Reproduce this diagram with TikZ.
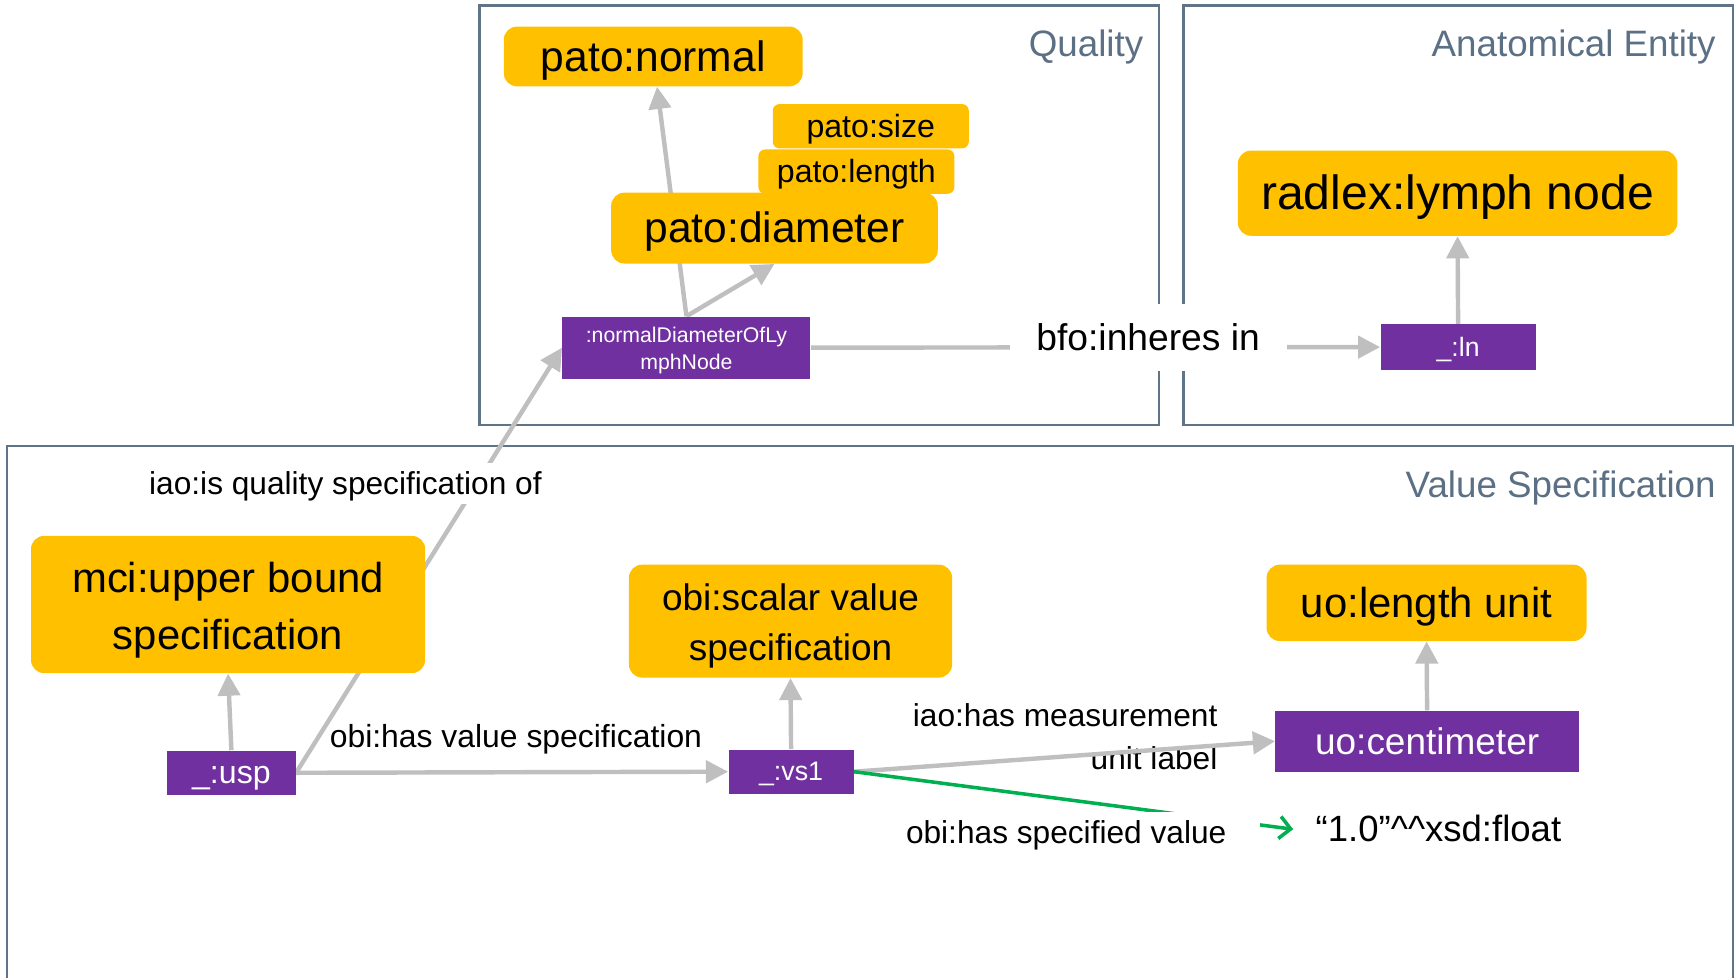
\documentclass[tikz,border=0pt]{standalone}
\usepackage{fontspec}
\setmainfont{Liberation Sans}
\usetikzlibrary{arrows.meta}
\definecolor{clsfill}{HTML}{FFC000}
\definecolor{instfill}{HTML}{7030A0}
\definecolor{edgegray}{HTML}{BFBFBF}
\definecolor{framecol}{HTML}{5F7587}
\definecolor{frametext}{HTML}{5B7084}
\definecolor{specgreen}{HTML}{00B050}
\pgfdeclarelayer{frames}
\pgfdeclarelayer{edges}
\pgfsetlayers{frames,edges,main}
\newcommand{\fs}[2]{\fontsize{#1}{#2}\selectfont}
% line strut with the font's full ascent and descent, so every line is centred alike
\newcommand{\ls}{\rule[-0.212em]{0pt}{1.117em}}
% slightly taller strut for the first line of two-line texts
\newcommand{\lsm}{\rule[-0.212em]{0pt}{1.217em}}
\begin{document}
\begin{tikzpicture}[x=0.5pt,y=-0.5pt,
  cls/.style={fill=clsfill, rounded corners=6pt, inner sep=0pt, text=black, align=center},
  inst/.style={fill=instfill, inner sep=0pt, text=white, align=center},
  rel/.style={draw=edgegray, line width=2pt, -{Triangle[length=10pt,width=10pt]}},
  specedge/.style={draw=specgreen, line width=1.6pt, -{Straight Barb[length=5pt,width=10pt]}},
  frame/.style={draw=framecol, line width=1pt},
  framelabel/.style={text=frametext, anchor=base east, inner sep=0pt, font=\fs{16.6}{19}},
  lbl/.style={inner sep=0pt, text=black},
]
\useasboundingbox (0,0) rectangle (1568,883);

% frames and the label that sits under its connector
\begin{pgfonlayer}{frames}
  \draw[frame] (433,5) rectangle (1047,384);
  \draw[frame] (1069,5) rectangle (1565,384);
  \draw[frame] (6,883) -- (6,403) -- (1565,403) -- (1565,883);
  \node[framelabel] (qlabel) at (1033,51) {Quality};
  \node[framelabel] (alabel) at (1550,51) {Anatomical Entity};
  \node[framelabel] (vlabel) at (1550,449) {Value Specification};
  \node[lbl, align=right, anchor=east, font=\fs{14.3}{19.5}] (unitlbl) at (1100,664.5) {\lsm iao:has measurement\\\ls unit label};
\end{pgfonlayer}

% quality
\node[cls, minimum width=135pt, minimum height=27pt, font=\fs{19.2}{23}] (normal) at (590,51) {\ls pato:normal};
\node[cls, rounded corners=3pt, minimum width=88.5pt, minimum height=20pt, font=\fs{14.5}{17}] (size) at (786.5,114) {\ls pato:size};
\node[cls, rounded corners=3pt, minimum width=88.5pt, minimum height=20pt, font=\fs{14.5}{17}] (length) at (773.5,155) {\ls pato:length};
\node[cls, minimum width=147.5pt, minimum height=32pt, font=\fs{19.2}{23}] (diameter) at (699.5,206) {\ls pato:diameter};
\node[inst, minimum width=112pt, minimum height=28pt, font=\fs{9.6}{12.5}] (ndl) at (620,314) {\lsm :normalDiameterOfLy\\\ls mphNode};

% anatomical entity
\node[cls, minimum width=198.5pt, minimum height=38.5pt, font=\fs{21.7}{26}] (lymph) at (1316.5,174.5) {\ls radlex:lymph node};
\node[inst, minimum width=70pt, minimum height=20.5pt, font=\fs{12}{14}] (ln) at (1317,313.5) {\ls\_:ln};

% value specification
\node[cls, minimum width=178pt, minimum height=62pt, font=\fs{18.9}{25.5}] (ubs) at (206,546) {\lsm mci:upper bound\\\ls specification};
\node[inst, minimum width=58pt, minimum height=20pt, font=\fs{14.5}{17}] (usp) at (209,698) {\ls\_:usp};
\node[cls, minimum width=146pt, minimum height=51pt, font=\fs{16.7}{22.5}] (svs) at (714,561) {\lsm obi:scalar value\\\ls specification};
\node[inst, minimum width=56.5pt, minimum height=20pt, font=\fs{12.1}{14}] (vs1) at (714.5,697) {\ls\_:vs1};
\node[cls, minimum width=144.5pt, minimum height=34.5pt, font=\fs{18.9}{23}] (lu) at (1288.5,544.5) {\ls uo:length unit};
\node[inst, minimum width=137pt, minimum height=27.5pt, font=\fs{16.7}{20}] (cm) at (1289,669.5) {\ls uo:centimeter};
\node[lbl, inner xsep=10pt, anchor=west, font=\fs{16.5}{19}] (lit) at (1168,749) {\ls“1.0”\textasciicircum\textasciicircum xsd:float};

% connector labels
\node[lbl, fill=white, minimum width=125pt, minimum height=30pt, font=\fs{16.8}{20}] (inheres) at (1037,305) {\ls bfo:inheres in};
\node[lbl, fill=white, inner xsep=3pt, minimum height=18.5pt, font=\fs{14.3}{17}] (qualof) at (312,437) {\ls iao:is quality specification of};
\node[lbl, font=\fs{14.4}{17}] (hasvs) at (466,665) {\ls obi:has value specification};
\node[lbl, fill=white, minimum width=175pt, minimum height=19pt, font=\fs{14.3}{17}] (specval) at (963,752) {\ls obi:has specified value};

% connectors
\begin{pgfonlayer}{edges}
  \draw[rel] (ndl.north) -- (normal);
  \draw[rel] (ndl.north) -- (diameter.south);
  \draw[rel] (ndl.east) -- (ln.west);
  \draw[rel] (ln.north) -- (lymph.south);
  \draw[rel] (usp.east) -- (ndl.west);
  \draw[rel] (usp.east) -- (vs1.west);
  \draw[rel] (usp.north) -- (ubs.south);
  \draw[rel] (vs1.north) -- (svs.south);
  \draw[rel] (vs1.east) -- (cm.west);
  \draw[rel] (cm.north) -- (lu.south);
  \draw[specedge] (vs1.east) -- (lit.west);
\end{pgfonlayer}
\end{tikzpicture}
\end{document}
